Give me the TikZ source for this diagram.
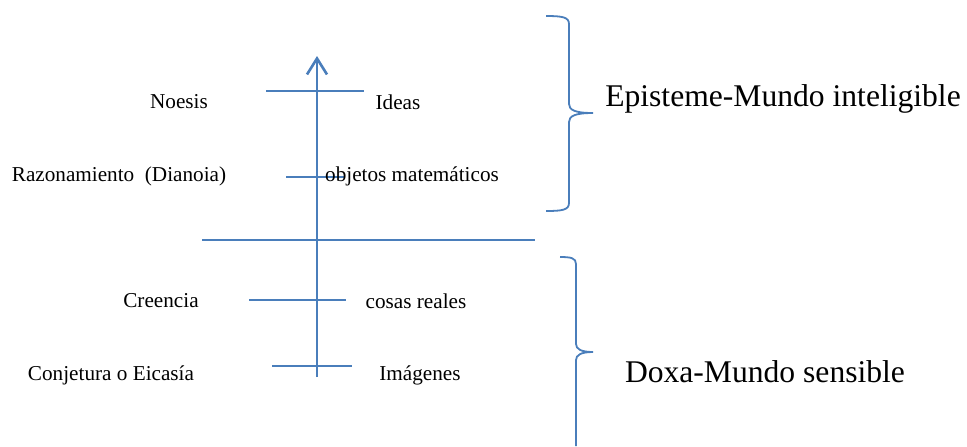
\documentclass[tikz,border=0pt]{standalone}
\usepackage{fontspec}
\setmainfont{Liberation Serif}
\usetikzlibrary{arrows.meta,positioning}
\definecolor{lineblue}{RGB}{74,126,187}
\tikzstyle{every path}+=[line width=1.3pt,color=lineblue]
\tikzstyle{small label}=[inner sep=0pt,text=black,font=\fontsize{10.6}{12}\selectfont]
\tikzstyle{big label}=[inner sep=0pt,text=black,font=\fontsize{15.8}{18}\selectfont]
\tikzstyle{brace}=[line width=0.9pt]

\begin{document}
\begin{tikzpicture}[x=0.5pt,y=-0.5pt]
    \useasboundingbox (0,0) rectangle (967,446);

    % axis with the four levels
    \coordinate (bottom) at (317,377);
    \coordinate (top) at (317,56);
    \draw[-{Straight Barb[length=8pt,width=10pt]}] (bottom) -- (top);

    \coordinate (noesisW) at (266,91);
    \coordinate (noesisE) at (364,91);
    \coordinate (dianoiaW) at (286,177);
    \coordinate (dianoiaE) at (345,177);
    \coordinate (divW) at (202,240);
    \coordinate (divE) at (535,240);
    \coordinate (creenciaW) at (249,300);
    \coordinate (creenciaE) at (346,300);
    \coordinate (eicasiaW) at (272,366);
    \coordinate (eicasiaE) at (352,366);
    \draw (noesisW) -- (noesisE);
    \draw (dianoiaW) -- (dianoiaE);
    \draw (divW) -- (divE);
    \draw (creenciaW) -- (creenciaE);
    \draw (eicasiaW) -- (eicasiaE);

    % labels left and right of the axis
    \node[small label] (noesis) at (179,102) {Noesis};
    \node[small label] (ideas) at (398,102) {Ideas};
    \node[small label] (dianoia) at (119,176) {Razonamiento\ \ (Dianoia)};
    \node[small label] (objetos) at (412,176) {objetos matemáticos};
    \node[small label] (creencia) at (161,301) {Creencia};
    \node[small label] (reales) at (416,301) {cosas reales};
    \node[small label] (eicasia) at (111,375) {Conjetura o Eicasía};
    \node[small label] (imagenes) at (420,375) {Imágenes};

    % upper brace
    \coordinate (upTop) at (546,16);
    \coordinate (upTip) at (593,113);
    \coordinate (upEnd) at (546,211);
    \draw[brace] (upTop) .. controls (562,16) and (569,17) .. (569,24)
        -- (569,104) .. controls (569,110) and (575,113) .. (upTip)
        .. controls (575,113) and (569,116) .. (569,122)
        -- (569,203) .. controls (569,210) and (562,211) .. (upEnd);
    \node[big label,anchor=west] (episteme) at (604,99) {Episteme-Mundo inteligible};

    % lower brace
    \coordinate (lowTop) at (560,257);
    \coordinate (lowTip) at (593,352);
    \coordinate (lowEnd) at (576,446);
    \draw[brace] (lowTop) .. controls (571,257) and (576,258) .. (576,264)
        -- (576,344) .. controls (576,349) and (581,352) .. (lowTip)
        .. controls (581,352) and (576,355) .. (576,360)
        -- (lowEnd);
    \node[big label] (doxa) at (765,372) {Doxa-Mundo sensible};
\end{tikzpicture}
\end{document}
